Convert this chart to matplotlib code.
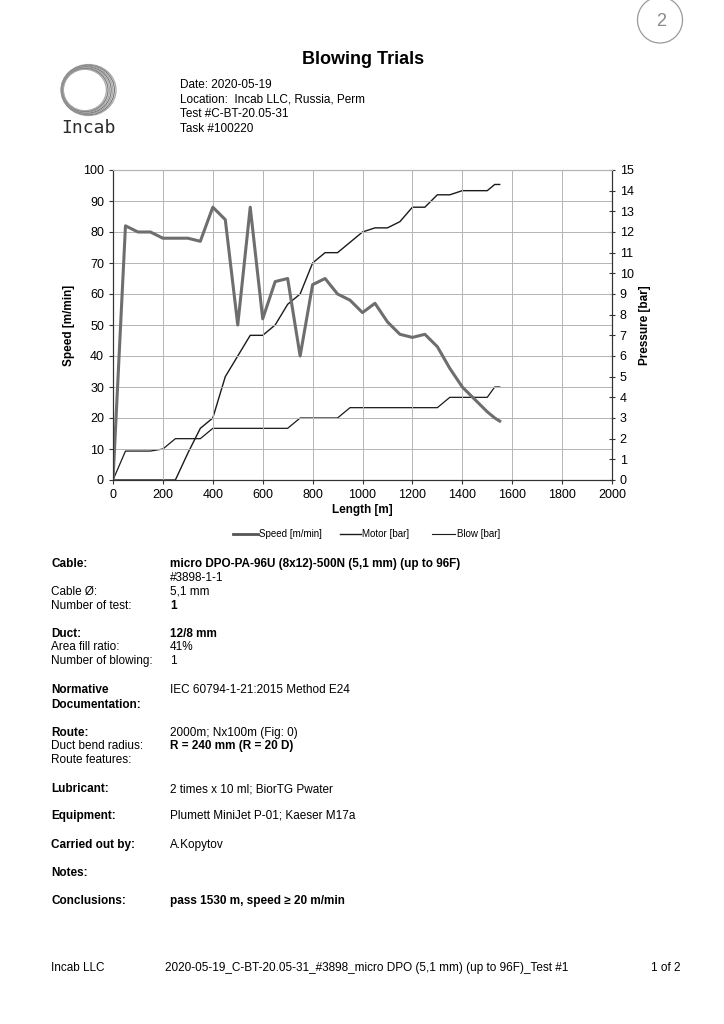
import numpy as np
import matplotlib.pyplot as plt
from matplotlib.patches import Ellipse, Arc

plt.rcParams['font.family'] = ['Liberation Sans', 'DejaVu Sans']

# data
length = [0, 50, 100, 150, 200, 250, 300, 350, 400, 450, 500, 550, 600, 650, 700, 750,
          800, 850, 900, 950, 1000, 1050, 1100, 1150, 1200, 1250, 1300, 1350, 1400, 1450,
          1500, 1530, 1550]
speed = [0, 82, 80, 80, 78, 78, 78, 77, 88, 84, 50, 88, 52, 64, 65, 40,
         63, 65, 60, 58, 54, 57, 51, 47, 46, 47, 43, 36, 30, 26, 22, 20, 19]
motor = [0, 0, 0, 0, 0, 0, 1.3, 2.5, 3.0, 5.0, 6.0, 7.0, 7.0, 7.5, 8.5, 9.0,
         10.5, 11.0, 11.0, 11.5, 12.0, 12.2, 12.2, 12.5, 13.2, 13.2, 13.8, 13.8, 14.0, 14.0,
         14.0, 14.3, 14.3]
blow = [0, 1.4, 1.4, 1.4, 1.5, 2.0, 2.0, 2.0, 2.5, 2.5, 2.5, 2.5, 2.5, 2.5, 2.5, 3.0,
        3.0, 3.0, 3.0, 3.5, 3.5, 3.5, 3.5, 3.5, 3.5, 3.5, 3.5, 4.0, 4.0, 4.0,
        4.0, 4.5, 4.5]

W, H = 724, 1024
fig = plt.figure(figsize=(W / 100, H / 100), dpi=100)

ax = fig.add_axes([113 / W, 1 - 480 / H, 499 / W, 310 / H])
ax2 = ax.twinx()
ax.set_zorder(ax2.get_zorder() + 1)
ax.patch.set_visible(False)

ax.plot(length, speed, color='#6e6e6e', lw=2.2, solid_joinstyle='round')
ax2.plot(length, motor, color='#1a1a1a', lw=1.0)
ax2.plot(length, blow, color='#1a1a1a', lw=0.9)

ax.set_xlim(0, 2000)
ax.set_ylim(0, 100)
ax2.set_ylim(0, 15)
ax.set_xticks(np.arange(0, 2001, 200))
ax.set_yticks(np.arange(0, 101, 10))
ax2.set_yticks(np.arange(0, 16, 1))
ax.grid(True, color='#b4b4b4', lw=0.7)
ax.tick_params(labelsize=9, length=3, color='#333333')
ax2.tick_params(labelsize=9, length=4, direction='inout', color='#333333')
for a in (ax, ax2):
    a.spines['top'].set_color('#b4b4b4')
    a.spines['left'].set_color('#333333')
    a.spines['right'].set_color('#333333')
    a.spines['bottom'].set_color('#333333')
ax.set_xlabel('Length [m]', fontsize=8.5, fontweight='bold', labelpad=2)
ax.set_ylabel('Speed [m/min]', fontsize=8.5, fontweight='bold', labelpad=6)
ax2.set_ylabel('Pressure [bar]', fontsize=8.5, fontweight='bold', labelpad=4)

# page overlay in pixel coordinates
pg = fig.add_axes([0, 0, 1, 1])
pg.set_xlim(0, W)
pg.set_ylim(H, 0)
pg.axis('off')
pg.set_zorder(-1)

# legend
pg.plot([233, 258], [534, 534], color='#555555', lw=2)
pg.text(259, 534, 'Speed [m/min]', fontsize=7, va='center')
pg.plot([340, 361], [534, 534], color='#1a1a1a', lw=1)
pg.text(362, 534, 'Motor [bar]', fontsize=7, va='center')
pg.plot([432, 455], [534, 534], color='#1a1a1a', lw=0.8)
pg.text(457, 534, 'Blow [bar]', fontsize=7, va='center')

# header
pg.text(363, 60, 'Blowing Trials', fontsize=13, fontweight='bold', ha='center', va='center')
head = ['Date: 2020-05-19', 'Location:  Incab LLC, Russia, Perm', 'Test #C-BT-20.05-31', 'Task #100220']
for i, s in enumerate(head):
    pg.text(180, 85 + i * 14.5, s, fontsize=8.5, va='center')

# logo rings
for k in range(7):
    pg.add_patch(Ellipse((88.5 - k * 0.6, 90), 55 - k * 2.0, 51 - k * 1.6, fill=False,
                         ec='#7a7a7a' if k % 2 else '#a8a8a8', lw=0.9))
pg.text(88, 128, 'Incab', fontsize=13, ha='center', va='center', color='#2a2a2a',
        family='DejaVu Sans Mono')

# handwritten page mark (y axis inverted, so 270 deg is the top)
pg.add_patch(Arc((660, 20), 45, 46, theta1=-75, theta2=255, ec='#9a9a9a', lw=0.9))
pg.text(661, 21, '2', fontsize=13, ha='center', va='center', color='#8a8a8a')

# details block
lab_x, val_x = 51, 170
rows = [
    (564, 'Cable:', True, 'micro DPO-PA-96U (8x12)-500N (5,1 mm) (up to 96F)', True),
    (578, '', False, '#3898-1-1', False),
    (592, 'Cable Ø:', False, '5,1 mm', False),
    (606, 'Number of test:', False, '1', True),
    (634, 'Duct:', True, '12/8 mm', True),
    (647, 'Area fill ratio:', False, '41%', False),
    (661, 'Number of blowing:', False, '1', False),
    (690, 'Normative', True, 'IEC 60794-1-21:2015 Method E24', False),
    (705, 'Documentation:', True, '', False),
    (733, 'Route:', True, '2000m; Nx100m (Fig: 0)', False),
    (746, 'Duct bend radius:', False, 'R = 240 mm (R = 20 D)', True),
    (760, 'Route features:', False, '', False),
    (789, 'Lubricant:', True, '2 times x 10 ml; BiorTG Pwater', False),
    (816, 'Equipment:', True, 'Plumett MiniJet P-01; Kaeser M17a', False),
    (845, 'Carried out by:', True, 'A.Kopytov', False),
    (873, 'Notes:', True, '', False),
    (901, 'Conclusions:', True, 'pass 1530 m, speed ≥ 20 m/min', True),
]
for y, lab, lb, val, vb in rows:
    if lab:
        pg.text(lab_x, y, lab, fontsize=8.5, va='center', fontweight='bold' if lb else 'normal')
    if val:
        pg.text(val_x, y, val, fontsize=8.5, va='center', fontweight='bold' if vb else 'normal')

pg.text(51, 968, 'Incab LLC', fontsize=8.5, va='center')
pg.text(165, 968, '2020-05-19_C-BT-20.05-31_#3898_micro DPO (5,1 mm) (up to 96F)_Test #1',
        fontsize=8.5, va='center')
pg.text(651, 968, '1 of 2', fontsize=8.5, va='center')

fig.savefig('out.png', dpi=100)
